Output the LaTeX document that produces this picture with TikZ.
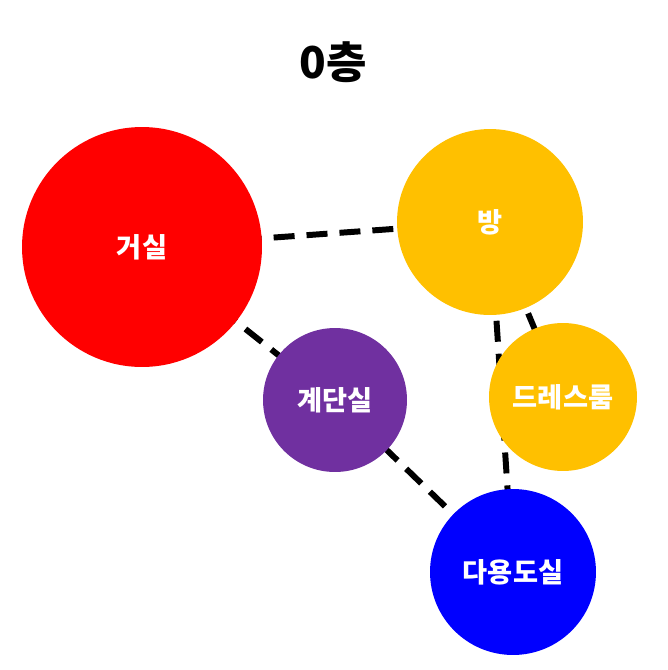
\documentclass[tikz,border=0pt]{standalone}
\usepackage{fontspec}
\setmainfont{Noto Sans CJK KR}
\usepackage{tikz}
\usetikzlibrary{backgrounds}
\tikzset{room/.style={circle, inner sep=0pt, text=white, font=\bfseries\fontsize{15.5}{18}\selectfont},
  link/.style={line width=3.4pt, dash pattern=on 0.42cm off 0.24cm}}
\definecolor{roomred}{HTML}{FF0000}
\definecolor{roomamber}{HTML}{FFC000}
\definecolor{roompurple}{HTML}{7030A0}
\definecolor{roomblue}{HTML}{0000FF}

\begin{document}
\begin{tikzpicture}[x=0.02cm, y=-0.02cm]
    \useasboundingbox (0, 0) rectangle (668, 670);
    \node (title) at (333, 62) {\bfseries\fontsize{25}{30}\selectfont 0층};
    \node[room, fill=roomred, minimum size=4.8cm] (geosil) at (142, 247) {거실};
    \node[room, fill=roomamber, minimum size=3.72cm] (bang) at (490, 222) {방};
    \node[room, fill=roomamber, minimum size=2.96cm] (dress) at (563, 397) {드레스룸};
    \node[room, fill=roompurple, minimum size=2.88cm] (stairs) at (335, 400) {계단실};
    \node[room, fill=roomblue, minimum size=3.32cm] (utility) at (513, 572) {다용도실};
    \begin{scope}[on background layer]
      \draw[link] (geosil.center) to (bang.center);
      \draw[link] (geosil.center) to (stairs.center);
      \draw[link] (stairs.center) to (utility.center);
      \draw[link] (bang.center) to (dress.center);
      \draw[link] (bang.center) to (utility.center);
    \end{scope}
  \end{tikzpicture}
\end{document}
